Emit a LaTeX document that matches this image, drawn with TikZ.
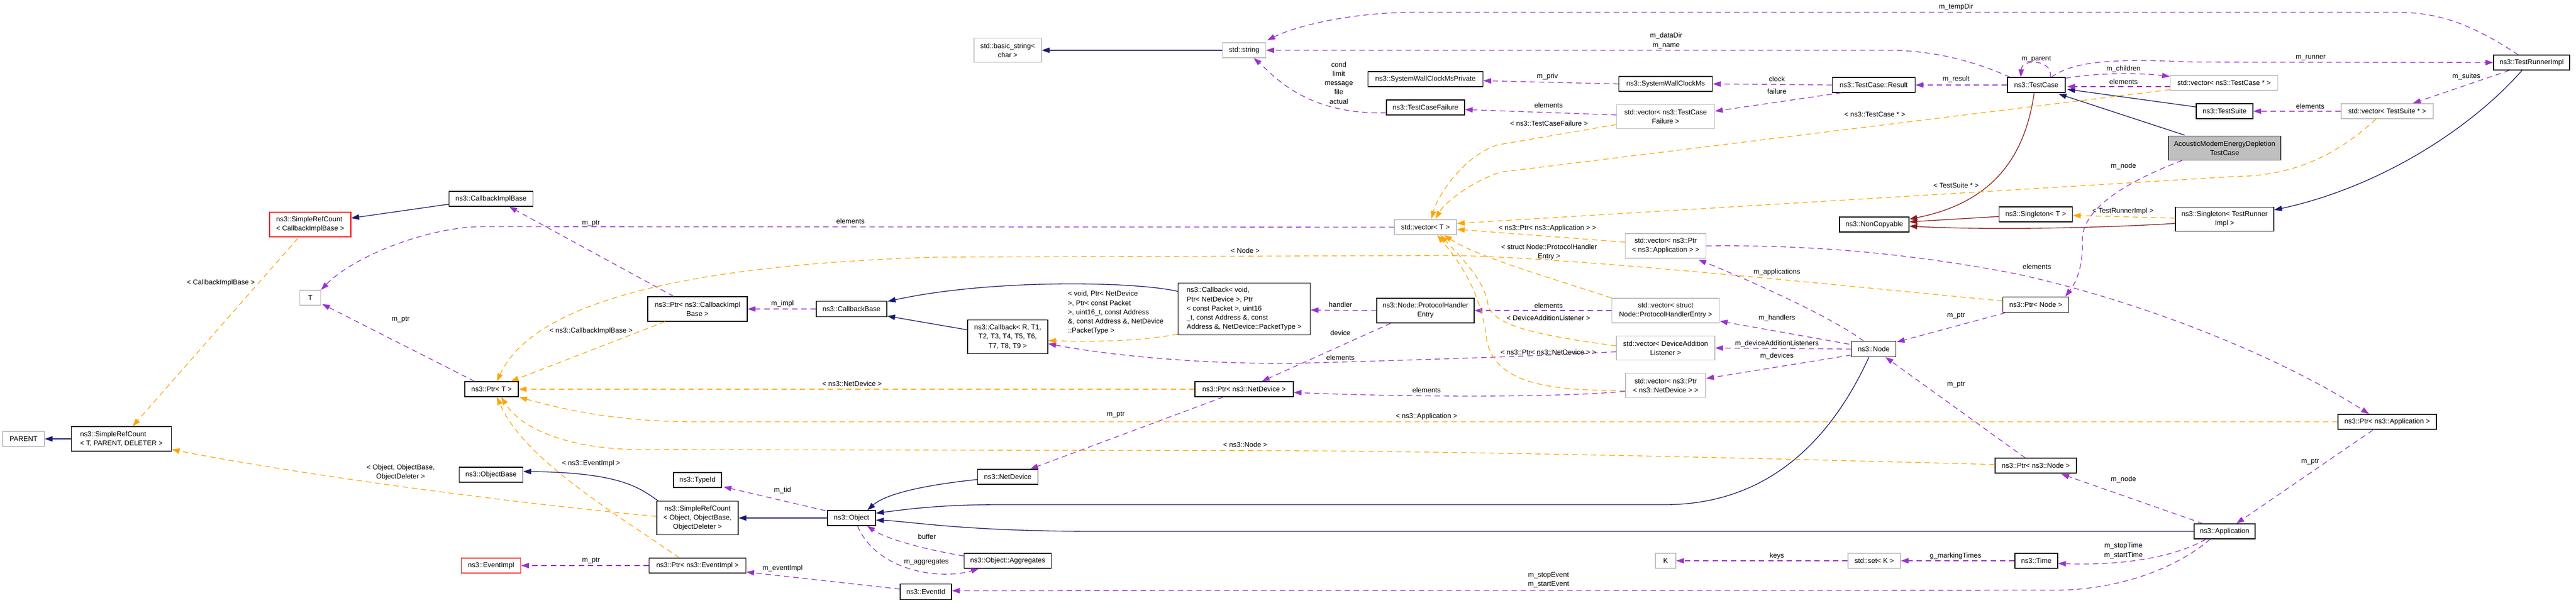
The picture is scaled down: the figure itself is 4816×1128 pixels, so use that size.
\documentclass[tikz,border=0pt]{standalone}
\usepackage{fontspec}
\setmainfont{Liberation Sans}
\usetikzlibrary{calc,arrows.meta}
\definecolor{inhblue}{HTML}{191970}
\definecolor{usepurple}{HTML}{9A32CD}
\definecolor{tplorange}{HTML}{FFA500}
\definecolor{privred}{HTML}{8B1A1A}
\definecolor{extgray}{HTML}{BFBFBF}
\def\nodefont{\fontsize{9.8}{12.9}\selectfont}
\tikzset{
  cls/.style 2 args={draw=black, fill=white, line width=1pt, inner sep=0pt,
    minimum width={#1*0.75pt}, minimum height={#2*0.75pt}, align=center, font=\nodefont},
  ext/.style 2 args={cls={#1}{#2}, draw=extgray},
  trunc/.style 2 args={cls={#1}{#2}, draw=red},
  mainc/.style 2 args={cls={#1}{#2}, fill=extgray, draw=black!75},
  lbl/.style={inner sep=0pt, align=center, font=\nodefont},
  rel/.style={line width=1pt, -{Triangle[length=11pt,width=7.5pt]}},
  relinh/.style={rel, draw=inhblue},
  relpriv/.style={rel, draw=privred},
  reluse/.style={rel, draw=usepurple, dash pattern=on 7.5pt off 5.5pt},
  reltpl/.style={rel, draw=tplorange, dash pattern=on 7.5pt off 5.5pt}
}
\def\drawinh{\draw[relinh]}
\def\drawpriv{\draw[relpriv]}
\def\drawuse{\draw[reluse]}
\def\drawtpl{\draw[reltpl]}
\def\lbl{\node[lbl]}

\begin{document}
\begin{tikzpicture}[x=0.75pt,y=-0.75pt]
\useasboundingbox (0,0) rectangle (4816,1128);

% ---------- classes, one column per rank (pixel coordinates, y downwards)
\node[ext={78}{28}] (parent) at (44,821) {PARENT};
\node[cls={187}{46}, align=left] (srct) at (227,821) {ns3::SimpleRefCount\\< T, PARENT, DELETER >};
\node[trunc={152}{46}, align=left] (srccib) at (580,420) {ns3::SimpleRefCount\\< CallbackImplBase >};
\node[ext={39}{28}] (tpar) at (580,557) {T};
\node[cls={157}{28}] (cib) at (918,372) {ns3::CallbackImplBase};
\node[cls={100}{28}] (ptrt) at (919,728) {ns3::Ptr< T >};
\node[cls={119}{28}] (objbase) at (918,888) {ns3::ObjectBase};
\node[trunc={111}{28}] (eventimpl) at (918,1058) {ns3::EventImpl};
\node[cls={186}{46}] (ptrcib) at (1304,578) {ns3::Ptr< ns3::CallbackImpl\\Base >};
\node[cls={90}{28}] (typeid) at (1304,898) {ns3::TypeId};
\node[cls={152}{63}] (srco) at (1304,969) {ns3::SimpleRefCount\\< Object, ObjectBase,\\ObjectDeleter >};
\node[cls={181}{28}] (ptrev) at (1304,1058) {ns3::Ptr< ns3::EventImpl >};
\node[cls={132}{29}] (cbbase) at (1592,578) {ns3::CallbackBase};
\node[cls={90}{28}] (object) at (1592,969) {ns3::Object};
\node[cls={96}{29}] (eventid) at (1731,1107) {ns3::EventId};
\node[ext={126}{45}] (basicstr) at (1884,94) {std::basic\_string<\\char >};
\node[cls={150}{63}] (cbrt) at (1884,630) {ns3::Callback< R, T1,\\T2, T3, T4, T5, T6,\\T7, T8, T9 >};
\node[cls={113}{28}] (netdev) at (1884,892) {ns3::NetDevice};
\node[cls={163}{28}] (aggr) at (1884,1049) {ns3::Object::Aggregates};
\node[ext={81}{28}] (stdstr) at (2326,94) {std::string};
\node[cls={247}{97}, align=left] (cbvoid) at (2326,578) {ns3::Callback< void,\\ Ptr< NetDevice >, Ptr\\< const Packet >, uint16\\\_t, const Address \&, const\\ Address \&, NetDevice::PacketType >};
\node[cls={184}{28}] (ptrnd) at (2326,728) {ns3::Ptr< ns3::NetDevice >};
\node[cls={215}{28}] (swcmp) at (2665,148) {ns3::SystemWallClockMsPrivate};
\node[cls={146}{28}] (tcf) at (2665,201) {ns3::TestCaseFailure};
\node[ext={116}{28}] (vect) at (2665,425) {std::vector< T >};
\node[cls={182}{46}] (phe) at (2665,581) {ns3::Node::ProtocolHandler\\Entry};
\node[cls={175}{28}] (swcm) at (3114,157) {ns3::SystemWallClockMs};
\node[ext={183}{45}] (vtcf) at (3114,218) {std::vector< ns3::TestCase\\Failure >};
\node[ext={151}{46}] (vptrapp) at (3114,460) {std::vector< ns3::Ptr\\< ns3::Application > >};
\node[ext={201}{46}] (vphe) at (3114,581) {std::vector< struct\\Node::ProtocolHandlerEntry >};
\node[ext={184}{45}] (vdal) at (3114,651) {std::vector< DeviceAddition\\Listener >};
\node[ext={150}{45}] (vptrnd) at (3114,721) {std::vector< ns3::Ptr\\< ns3::NetDevice > >};
\node[ext={38}{28}] (kpar) at (3114,1049) {K};
\node[cls={155}{28}] (result) at (3503,159) {ns3::TestCase::Result};
\node[cls={130}{28}] (noncopy) at (3504,420) {ns3::NonCopyable};
\node[cls={83}{29}] (node) at (3503,653) {ns3::Node};
\node[ext={98}{28}] (stdset) at (3504,1049) {std::set< K >};
\node[cls={108}{28}] (testcase) at (3807,159) {ns3::TestCase};
\node[cls={137}{28}] (singt) at (3806,401) {ns3::Singleton< T >};
\node[cls={123}{29}] (ptrnode) at (3806,570) {ns3::Ptr< Node >};
\node[cls={152}{28}] (ptrnsnode) at (3806,871) {ns3::Ptr< ns3::Node >};
\node[cls={80}{28}] (time) at (3807,1049) {ns3::Time};
\node[ext={201}{28}] (vtc) at (4158,155) {std::vector< ns3::TestCase * >};
\node[cls={106}{28}] (testsuite) at (4159,208) {ns3::TestSuite};
\node[mainc={210}{45}] (acoustic) at (4159,277) {AcousticModemEnergyDepletion\\TestCase};
\node[cls={184}{45}] (singtri) at (4159,410) {ns3::Singleton< TestRunner\\Impl >};
\node[cls={114}{28}] (application) at (4159,994) {ns3::Application};
\node[ext={172}{28}] (vts) at (4463,208) {std::vector< TestSuite * >};
\node[cls={184}{28}] (ptrapp) at (4463,789) {ns3::Ptr< ns3::Application >};
\node[cls={142}{28}] (tri) at (4733,117) {ns3::TestRunnerImpl};

% ---------- public inheritance
\drawinh (srct.west) -- (parent.east);
\drawinh ($(cib.west)+(0,10)$) -- ($(srccib.east)+(0,-12)$);
\drawinh (stdstr.west) -- (basicstr.east);
\drawinh ($(srco.north west)+(3,0)$) .. controls (1195,912) and (1160,884) .. ($(objbase.east)+(0,-6)$);
\drawinh (object.west) -- (srco.east);
\drawinh ($(cbrt.west)+(0,-13)$) -- ($(cbbase.south east)+(0,-2)$);
\drawinh ($(cbvoid.west)+(0,-33)$) .. controls (2120,526) and (1850,522) .. ($(cbbase.north east)+(1,1)$);
\drawinh ($(netdev.west)+(0,5)$) .. controls (1750,905) and (1660,920) .. ($(object.north east)+(-16,0)$);
\drawinh ($(node.south)+(-9,0)$) .. controls (3420,830) and (3300,944) .. (3113,944) -- (1869,944)
  .. controls (1760,944) and (1700,952) .. ($(object.east)+(0,-9)$);
\drawinh (application.west) -- (2049,994) .. controls (1800,994) and (1700,975) .. ($(object.east)+(0,4)$);
\drawinh ($(testsuite.west)+(0,-8)$) -- ($(testcase.east)+(3,8)$);
\drawinh ($(acoustic.north west)+(31,-1)$) -- ($(testcase.south east)+(-13,2)$);
\drawinh ($(tri.south)+(-18,0)$) .. controls (4620,240) and (4450,350) .. ($(singtri.north east)+(0,6)$);

% ---------- private inheritance
\drawpriv ($(testcase.south)+(-4,0)$) .. controls (3785,300) and (3720,380) .. ($(noncopy.east)+(0,-10)$);
\drawpriv ($(singt.west)+(0,4)$) -- ($(noncopy.east)+(0,-5)$);
\drawpriv ($(singtri.west)+(0,8)$) .. controls (3900,428) and (3700,430) .. ($(noncopy.east)+(0,3)$);

% ---------- usage, test framework
\drawuse ($(tri.north)+(-25,0)$) .. controls (4620,45) and (4560,23) .. (4480,23) -- (2648,23)
  .. controls (2520,23) and (2420,50) .. ($(stdstr.north east)+(2,-4)$);
\drawuse ($(testcase.north west)+(5,0)$) .. controls (3700,118) and (3620,94) .. (3531,94) -- (stdstr.east);
\drawuse ($(tcf.west)+(0,10)$) .. controls (2440,215) and (2380,140) .. ($(stdstr.south)+(18,0)$);
\drawuse (swcm.west) -- ($(swcmp.east)+(0,3)$);
\drawuse ($(vtcf.west)+(0,-3)$) -- ($(tcf.east)+(0,4)$);
\drawuse (result.west) -- (swcm.east);
\drawuse ($(result.south west)+(17,0)$) -- ($(vtcf.east)+(0,-10)$);
\drawuse (testcase.west) -- (result.east);
\drawuse ($(testcase.north)+(26,0)$) .. controls (3840,112) and (3780,108) .. ($(testcase.north)+(-29,0)$);
\drawuse ($(testcase.north)+(28,0)$) .. controls (3880,112) and (3960,110) .. (4100,116) -- (tri.west);
\drawuse ($(testcase.north east)+(0,2)$) .. controls (3920,136) and (4000,136) .. ($(vtc.west)+(0,-12)$);
\drawuse ($(vtc.west)+(0,7)$) -- ($(testcase.east)+(3,3)$);
\drawuse (vts.west) -- (testsuite.east);
\drawuse ($(tri.south west)+(30,0)$) -- ($(vts.north)+(48,0)$);
\drawuse ($(acoustic.south west)+(26,0)$) .. controls (3950,350) and (3892,400) .. (3893,450)
  .. controls (3895,500) and (3880,530) .. ($(ptrnode.north east)+(-7,0)$);

% ---------- usage, nodes and applications
\drawuse (vptrapp.east) .. controls (3380,458) and (3560,472) .. (3768,512)
  .. controls (3990,560) and (4250,660) .. ($(ptrapp.north)+(-34,0)$);
\drawuse ($(node.north)+(-19,0)$) .. controls (3420,590) and (3260,520) .. ($(vptrapp.south east)+(-15,2)$);
\drawuse ($(node.north west)+(-4,6)$) -- ($(vphe.south east)+(0,-4)$);
\drawuse (node.west) -- (vdal.east);
\drawuse ($(node.south west)+(0,-4)$) -- ($(vptrnd.east)+(0,-13)$);
\drawuse ($(ptrnode.south west)+(5,0)$) -- ($(node.north east)+(1,2)$);
\drawuse ($(ptrnsnode.north)+(-20,0)$) -- ($(node.south)+(22,0)$);
\drawuse ($(application.north west)+(17,0)$) -- ($(ptrnsnode.south east)+(-29,1)$);
\drawuse ($(ptrapp.south)+(-27,1)$) -- ($(application.north)+(22,0)$);
\drawuse ($(application.south)+(-27,0)$) .. controls (4060,1070) and (3950,1103) .. (3846,1104) -- ($(eventid.east)+(0,-2)$);
\drawuse ($(application.south)+(-35,0)$) .. controls (4060,1045) and (3960,1058) .. ($(time.east)+(0,5)$);
\drawuse (time.west) -- (stdset.east);
\drawuse (stdset.west) -- (kpar.east);

% ---------- usage, objects, events and callbacks
\drawuse ($(eventid.west)+(0,-5)$) -- ($(ptrev.east)+(0,12)$);
\drawuse (ptrev.west) -- (eventimpl.east);
\drawuse ($(object.north west)+(-3,1)$) -- ($(typeid.south east)+(3,-2)$);
\drawuse ($(aggr.west)+(0,-9)$) .. controls (1740,1030) and (1660,1010) .. ($(object.south)+(29,0)$);
\drawuse ($(object.south)+(11,0)$) .. controls (1640,1070) and (1760,1085) .. ($(aggr.south)+(-54,0)$);
\drawuse ($(ptrnd.south)+(-39,0)$) -- ($(netdev.north east)+(-15,0)$);
\drawuse ($(vptrnd.west)+(0,11)$) .. controls (2900,745) and (2600,742) .. ($(ptrnd.east)+(0,6)$);
\drawuse ($(phe.south west)+(27,0)$) -- ($(ptrnd.north)+(33,0)$);
\drawuse (phe.west) -- ($(cbvoid.east)+(0,2)$);
\drawuse (vphe.west) -- (phe.east);
\drawuse ($(vdal.west)+(0,7)$) .. controls (2900,665) and (2700,672) .. (2410,680)
  .. controls (2200,680) and (2050,660) .. ($(cbrt.east)+(0,13)$);
\drawuse ($(ptrcib.north west)+(49,0)$) -- ($(cib.south)+(34,0)$);
\drawuse (cbbase.west) -- (ptrcib.east);
\drawuse (vect.west) -- (903,424) .. controls (800,424) and (660,480) .. (tpar.north east);
\drawuse ($(ptrt.north west)+(19,0)$) -- ($(tpar.south east)+(2,-3)$);

% ---------- template instances
\drawtpl ($(srccib.south)+(-23,2)$) -- ($(srct.north)+(21,0)$);
\drawtpl ($(srco.west)+(0,-3)$) .. controls (1000,945) and (600,895) .. ($(srct.east)+(0,20)$);
\drawtpl ($(ptrcib.south west)+(33,0)$) -- ($(ptrt.north)+(36,0)$);
\drawtpl ($(ptrnode.west)+(0,-7)$) .. controls (3400,530) and (2900,478) .. (2700,478) -- (1750,481)
  .. controls (1300,495) and (1000,560) .. ($(ptrt.north)+(10,0)$);
\drawtpl (ptrnd.west) -- (ptrt.east);
\drawtpl (ptrapp.west) -- (1300,789) .. controls (1150,789) and (1050,765) .. ($(ptrt.east)+(1,15)$);
\drawtpl ($(ptrnsnode.west)+(0,-2)$) .. controls (3400,860) and (2800,845) .. (2400,843) -- (1200,841)
  .. controls (1080,841) and (980,810) .. ($(ptrt.south)+(18,0)$);
\drawtpl ($(ptrev.north west)+(57,0)$) .. controls (1150,960) and (980,860) .. ($(ptrt.south)+(10,0)$);
\drawtpl ($(cbvoid.south west)+(0,-2)$) .. controls (2130,638) and (2050,640) .. ($(cbrt.east)+(0,7)$);
\drawtpl ($(vtcf.west)+(0,15)$) -- (2800,271) .. controls (2740,290) and (2690,360) .. ($(vect.north)+(11,-1)$);
\drawtpl ($(vtc.south west)+(0,-2)$) -- (2805,322) .. controls (2750,340) and (2700,380) .. ($(vect.north)+(19,-1)$);
\drawtpl ($(vts.south)+(-21,0)$) .. controls (4380,280) and (4300,329) .. (4181,330) -- ($(vect.east)+(0,-7)$);
\drawtpl ($(vptrapp.west)+(0,-7)$) -- ($(vect.east)+(0,4)$);
\drawtpl (vphe.north west) .. controls (2900,520) and (2760,480) .. ($(vect.south)+(35,0)$);
\drawtpl ($(vdal.west)+(0,-4)$) .. controls (2880,628) and (2790,610) .. (2782,570)
  .. controls (2775,520) and (2720,470) .. ($(vect.south)+(28,0)$);
\drawtpl ($(vptrnd.west)+(0,10)$) .. controls (2900,730) and (2800,720) .. (2780,640)
  .. controls (2770,540) and (2720,480) .. ($(vect.south)+(22,0)$);
\drawtpl ($(singtri.west)+(0,-2)$) -- ($(singt.east)+(0,2)$);

% ---------- edge labels
\lbl (l_cib) at (413,529) {< CallbackImplBase >};
\lbl (l_tptr) at (749,598) {m\_ptr};
\lbl (l_cibptr) at (1105,418) {m\_ptr};
\lbl (l_telem) at (1590,414) {elements};
\lbl (l_srco) at (749,884) {< Object, ObjectBase,\\ObjectDeleter >};
\lbl (l_ptrcib) at (1105,619) {< ns3::CallbackImplBase >};
\lbl (l_impl) at (1463,568) {m\_impl};
\lbl (l_ptrnd) at (1593,718) {< ns3::NetDevice >};
\lbl (l_ptrev) at (1105,867) {< ns3::EventImpl >};
\lbl (l_tid) at (1463,917) {m\_tid};
\lbl (l_evptr) at (1105,1049) {m\_ptr};
\lbl (l_evimpl) at (1463,1063) {m\_eventImpl};
\node[lbl, align=left] (l_cbvoid) at (2086,585) {< void, Ptr< NetDevice\\>, Ptr< const Packet\\>, uint16\_t, const Address\\\&, const Address \&, NetDevice\\::PacketType >};
\lbl (l_ndptr) at (2086,776) {m\_ptr};
\lbl (l_buffer) at (1733,1004) {buffer};
\lbl (l_aggr) at (1732,1052) {m\_aggregates};
\lbl (l_nsnode) at (2328,832) {< ns3::Node >};
\lbl (l_node) at (2328,469) {< Node >};
\lbl (l_fail) at (2503,155) {cond\\limit\\message\\file\\actual};
\lbl (l_data) at (3115,76) {m\_dataDir\\m\_name};
\lbl (l_priv) at (2893,143) {m\_priv};
\lbl (l_tcfel) at (2895,197) {elements};
\lbl (l_tcf) at (2896,231) {< ns3::TestCaseFailure >};
\lbl (l_vapp) at (2893,427) {< ns3::Ptr< ns3::Application > >};
\lbl (l_vphe) at (2896,472) {< struct Node::ProtocolHandler\\Entry >};
\lbl (l_handler) at (2506,570) {handler};
\lbl (l_device) at (2506,623) {device};
\lbl (l_dalel) at (2506,669) {elements};
\lbl (l_pheel) at (2895,572) {elements};
\lbl (l_dal) at (2895,595) {< DeviceAdditionListener >};
\lbl (l_vnd) at (2895,659) {< ns3::Ptr< ns3::NetDevice > >};
\lbl (l_ndel) at (2667,730) {elements};
\lbl (l_app) at (2667,779) {< ns3::Application >};
\lbl (l_event) at (2895,1085) {m\_stopEvent\\m\_startEvent};
\lbl (l_temp) at (3657,13) {m\_tempDir};
\lbl (l_clock) at (3322,148) {clock};
\lbl (l_failure) at (3322,171) {failure};
\lbl (l_result) at (3657,148) {m\_result};
\lbl (l_vtc) at (3505,214) {< ns3::TestCase * >};
\lbl (l_parent) at (3807,111) {m\_parent};
\lbl (l_children) at (3970,129) {m\_children};
\lbl (l_tcel) at (3970,153) {elements};
\lbl (l_vts) at (3657,347) {< TestSuite * >};
\lbl (l_tri) at (3969,395) {< TestRunnerImpl >};
\lbl (l_amnode) at (3970,311) {m\_node};
\lbl (l_appel) at (3808,499) {elements};
\lbl (l_apps) at (3322,509) {m\_applications};
\lbl (l_handlers) at (3322,595) {m\_handlers};
\lbl (l_dals) at (3322,643) {m\_deviceAdditionListeners};
\lbl (l_devices) at (3322,666) {m\_devices};
\lbl (l_nptr1) at (3657,591) {m\_ptr};
\lbl (l_nptr2) at (3657,720) {m\_ptr};
\lbl (l_appnode) at (3970,897) {m\_node};
\lbl (l_keys) at (3322,1040) {keys};
\lbl (l_marking) at (3656,1040) {g\_markingTimes};
\lbl (l_times) at (3970,1030) {m\_stopTime\\m\_startTime};
\lbl (l_runner) at (4320,108) {m\_runner};
\lbl (l_suites) at (4611,143) {m\_suites};
\lbl (l_tsel) at (4319,199) {elements};
\lbl (l_appptr) at (4319,864) {m\_ptr};
\end{tikzpicture}
\end{document}
